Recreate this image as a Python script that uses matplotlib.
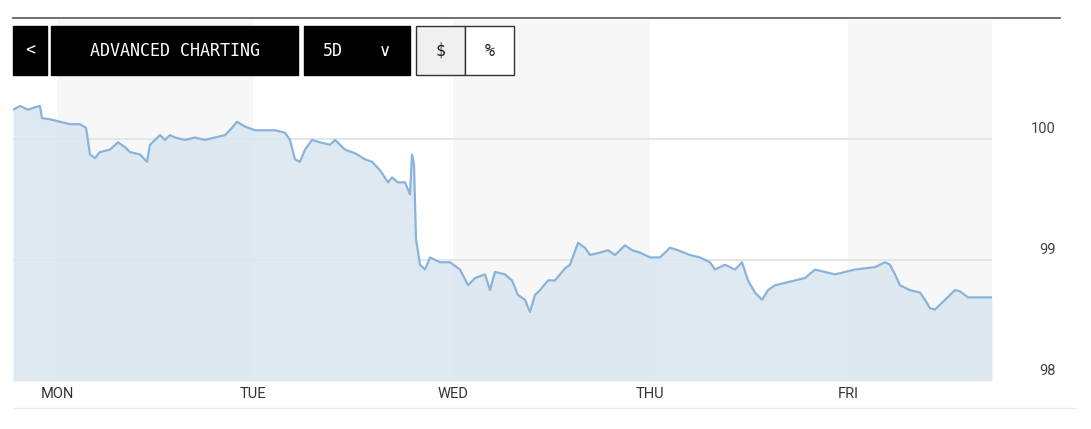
import matplotlib
matplotlib.use('Agg')
import matplotlib.pyplot as plt
from matplotlib.patches import Rectangle

# time in chart units (one trading day ~ 198 units), price values
t = [0, 7, 15, 22, 27, 29, 37, 47, 57, 67, 73, 77, 82, 87, 97, 105, 112, 117, 127, 134, 137,
     142, 147, 152, 157, 162, 172, 182, 192, 202, 212, 219, 224, 232, 242, 252, 262, 272, 277,
     282, 287, 292, 299, 307, 317, 322, 332, 342, 352, 359, 367, 375, 379, 385, 392, 397, 399,
     401, 403, 407, 412, 417, 427, 437, 447, 455, 462, 472, 477, 482, 492, 499, 505, 512, 517,
     522, 527, 535, 542, 552, 557, 565, 572, 577, 587, 595, 602, 612, 619, 627, 637, 647, 657,
     665, 677, 687, 697, 702, 712, 722, 729, 735, 742, 749, 755, 762, 772, 782, 792, 802, 812,
     822, 832, 842, 852, 862, 872, 877, 882, 887, 897, 907, 912, 917, 922, 927, 932, 937, 942,
     947, 955, 962, 972, 979]
price = [100.24, 100.27, 100.24, 100.26, 100.27, 100.17, 100.16, 100.14, 100.12, 100.12, 100.09,
         99.87, 99.84, 99.89, 99.91, 99.97, 99.93, 99.89, 99.87, 99.81, 99.95, 99.99, 100.03,
         99.99, 100.03, 100.01, 99.99, 100.01, 99.99, 100.01, 100.03, 100.09, 100.14, 100.10,
         100.07, 100.07, 100.07, 100.05, 99.99, 99.83, 99.81, 99.91, 99.99, 99.97, 99.95, 99.99,
         99.91, 99.88, 99.83, 99.81, 99.74, 99.64, 99.68, 99.64, 99.64, 99.54, 99.87, 99.79,
         99.17, 98.96, 98.92, 99.02, 98.98, 98.98, 98.92, 98.79, 98.85, 98.88, 98.75, 98.90,
         98.88, 98.83, 98.71, 98.67, 98.57, 98.71, 98.75, 98.83, 98.83, 98.93, 98.96, 99.14,
         99.10, 99.04, 99.06, 99.08, 99.04, 99.12, 99.08, 99.06, 99.02, 99.02, 99.10, 99.08,
         99.04, 99.02, 98.98, 98.92, 98.96, 98.92, 98.98, 98.83, 98.73, 98.67, 98.75, 98.79,
         98.81, 98.83, 98.85, 98.92, 98.90, 98.88, 98.90, 98.92, 98.93, 98.94, 98.98, 98.96,
         98.88, 98.79, 98.75, 98.73, 98.67, 98.60, 98.59, 98.63, 98.67, 98.71, 98.75, 98.74,
         98.69, 98.69, 98.69, 98.69]
day_labels = ['MON', 'TUE', 'WED', 'THU', 'FRI']
day_ticks = [44, 240, 440, 637, 835]
y_ticks = [98, 99, 100]

W, H = 1091, 429
fig = plt.figure(figsize=(W / 100, H / 100), dpi=100)

def fx(px): return px / W
def fy(py): return 1 - py / H

ax = fig.add_axes([fx(13), fy(381), fx(992) - fx(13), fy(20) - fy(381)])
ax.set_xlim(0, 979)
ax.set_ylim(98, 100.98)

# alternating day bands
for i in range(0, len(day_ticks), 2):
    end = day_ticks[i + 1] if i + 1 < len(day_ticks) else 979
    ax.axvspan(day_ticks[i], end, color='#f7f7f7', zorder=0, lw=0)

for v in y_ticks[1:]:
    ax.axhline(v, color='#e2e2e2', lw=1.2, zorder=1)

ax.fill_between(t, price, 98, color='#dce7f0', alpha=0.9, zorder=2, lw=0)
ax.plot(t, price, color='#8ab3dc', lw=1.6, zorder=3)

for s in ax.spines.values():
    s.set_visible(False)
ax.set_xticks([])
ax.set_yticks([])

for lab, x in zip(day_labels, day_ticks):
    ax.text(x, -0.018, lab, transform=ax.get_xaxis_transform(), ha='center', va='top',
            fontsize=10.5, color='#333333', family='Roboto')
for v in y_ticks:
    ax.text(1.065, v + 0.08, str(v), transform=ax.get_yaxis_transform(), ha='right',
            va='center', fontsize=10.5, color='#444444', family='Roboto')

# decorative lines
fig.add_artist(plt.Line2D([fx(13), fx(1060)], [fy(18), fy(18)], color='#555555', lw=1.2))
fig.add_artist(plt.Line2D([fx(13), fx(1075)], [fy(408), fy(408)], color='#e8e8e8', lw=1))

# toolbar buttons
def button(x0, x1, fc, ec, label, tc, fam='DejaVu Sans Mono'):
    fig.add_artist(Rectangle((fx(x0), fy(75)), fx(x1) - fx(x0), fy(26) - fy(75),
                             transform=fig.transFigure, fc=fc, ec=ec, lw=1))
    fig.text(fx((x0 + x1) / 2), fy(50.5), label, ha='center', va='center',
             color=tc, fontsize=12, family=fam)

button(13, 47, 'black', 'black', '<', 'white')
button(51, 298, 'black', 'black', 'ADVANCED CHARTING', 'white')
button(304, 410, 'black', 'black', '', 'white')
fig.text(fx(333), fy(50.5), '5D', ha='center', va='center', color='white', fontsize=12,
         family='DejaVu Sans Mono')
fig.text(fx(385), fy(51), '\u2228', ha='center', va='center', color='white', fontsize=12)
button(416, 465, '#f0f0f0', '#333333', '$', '#222222')
button(465, 514, 'white', '#333333', '%', '#222222')

fig.savefig('out.png', dpi=100)
